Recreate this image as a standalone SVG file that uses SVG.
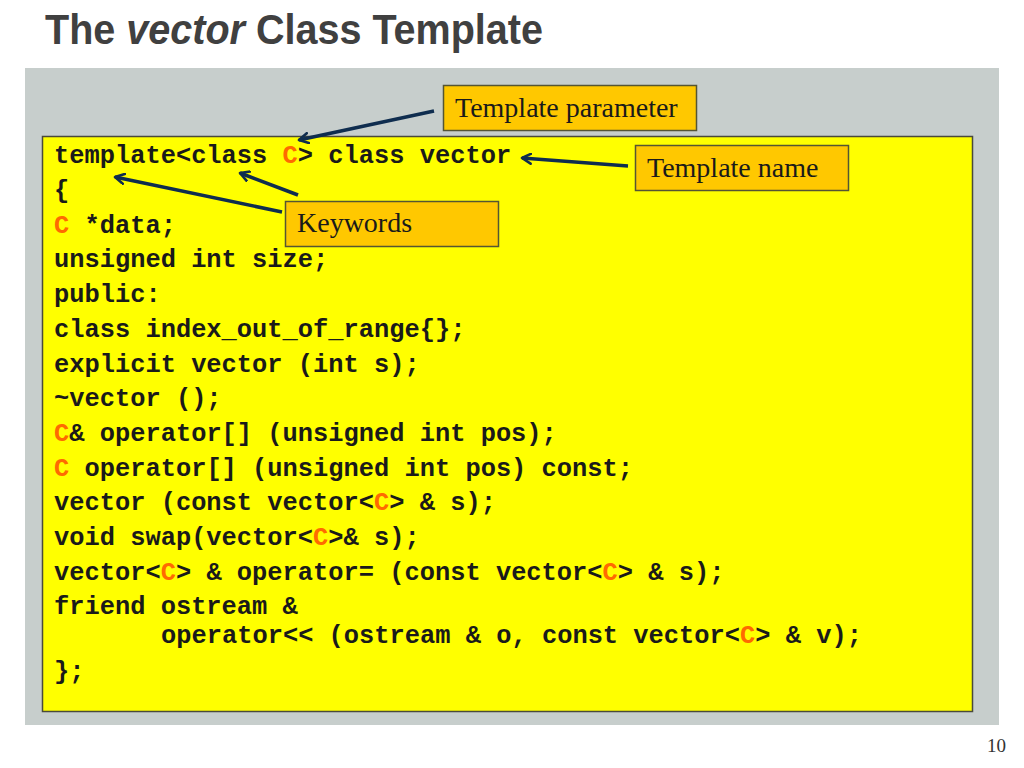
<svg xmlns="http://www.w3.org/2000/svg" width="1024" height="768" viewBox="0 0 1024 768">
<defs>
<marker id="arr" viewBox="0 0 12 12" refX="10" refY="6" markerWidth="12" markerHeight="12" markerUnits="userSpaceOnUse" orient="auto">
<path d="M1,1 L10,6 L1,11" fill="none" stroke="#0f2d4f" stroke-width="2.6" stroke-linecap="round" stroke-linejoin="round"/>
</marker>
</defs>
<style>
.code{font-family:"Liberation Mono","Courier New",monospace;font-weight:bold;font-size:25.4px;fill:#1a1a1a}
.c{fill:#ff6a00}
.call{fill:#ffc800;stroke:#555533;stroke-width:1.5}
.lbl{font-family:"Liberation Serif","Times New Roman",serif;font-size:28px;fill:#1a1a1a}
.con{stroke:#0f2d4f;stroke-width:3.5;fill:none;marker-end:url(#arr)}
</style>
<rect width="1024" height="768" fill="#ffffff"/>
<text x="45" y="44" font-family="Liberation Sans, Arial, sans-serif" font-weight="bold" font-size="42" fill="#404040" textLength="498" lengthAdjust="spacingAndGlyphs">The <tspan font-style="italic">vector</tspan> Class Template</text>
<rect x="25" y="68" width="974" height="657" fill="#c7cecc"/>
<g id="code-box">
<rect x="42.5" y="136.5" width="930" height="575" fill="#ffff00" stroke="#4a4a3a" stroke-width="1.5"/>
<text class="code" x="54" y="163">template&lt;class <tspan class="c">C</tspan>&gt; class vector</text>
<text class="code" x="54" y="198">{</text>
<text class="code" x="54" y="233"><tspan class="c">C</tspan> *data;</text>
<text class="code" x="54" y="267">unsigned int size;</text>
<text class="code" x="54" y="302">public:</text>
<text class="code" x="54" y="337">class index_out_of_range{};</text>
<text class="code" x="54" y="372">explicit vector (int s);</text>
<text class="code" x="54" y="406">~vector ();</text>
<text class="code" x="54" y="441"><tspan class="c">C</tspan>&amp; operator[] (unsigned int pos);</text>
<text class="code" x="54" y="476"><tspan class="c">C</tspan> operator[] (unsigned int pos) const;</text>
<text class="code" x="54" y="510">vector (const vector&lt;<tspan class="c">C</tspan>&gt; &amp; s);</text>
<text class="code" x="54" y="545">void swap(vector&lt;<tspan class="c">C</tspan>&gt;&amp; s);</text>
<text class="code" x="54" y="580">vector&lt;<tspan class="c">C</tspan>&gt; &amp; operator= (const vector&lt;<tspan class="c">C</tspan>&gt; &amp; s);</text>
<text class="code" x="54" y="614">friend ostream &amp;</text>
<text class="code" x="161" y="643">operator&lt;&lt; (ostream &amp; o, const vector&lt;<tspan class="c">C</tspan>&gt; &amp; v);</text>
<text class="code" x="54" y="679">};</text>
</g>
<g id="connectors">
<path class="con" d="M434,111 L299,140"/>
<path class="con" d="M628,166 L522,158"/>
<path class="con" d="M298,195 L240,173"/>
<path class="con" d="M282,212 L115,177"/>
</g>
<g id="template-parameter">
<rect class="call" x="443.5" y="85.5" width="253" height="45"/>
<text class="lbl" x="455" y="117">Template parameter</text>
</g>
<g id="template-name">
<rect class="call" x="635.5" y="145.5" width="213" height="45"/>
<text class="lbl" x="647" y="177">Template name</text>
</g>
<g id="keywords">
<rect class="call" x="285.5" y="201.5" width="213" height="45"/>
<text class="lbl" x="297" y="232">Keywords</text>
</g>
<text x="1006" y="752" text-anchor="end" font-family="Liberation Serif, Times New Roman, serif" font-size="19" fill="#333333">10</text>
</svg>
